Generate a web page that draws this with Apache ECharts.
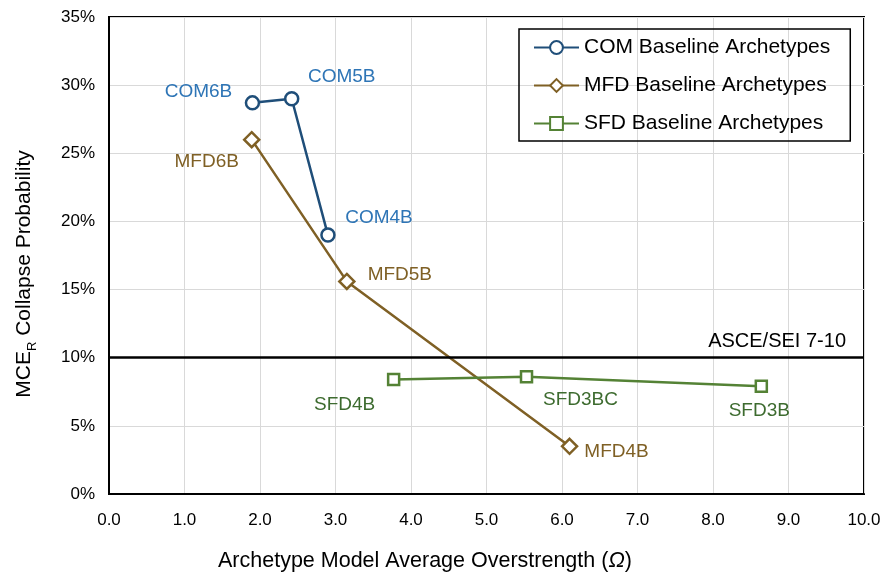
<!DOCTYPE html>
<html>
<head>
<meta charset="utf-8">
<script src="https://cdn.jsdelivr.net/npm/echarts@6/dist/echarts.min.js"></script>
<style>
  html, body { margin: 0; padding: 0; background: #fff; }
  #chart { width: 885px; height: 576px; }
</style>
</head>
<body>
<div id="chart"></div>
<script>
// archetype data (x = overstrength, y = collapse prob. %)
var comNames = ['COM6B', 'COM5B', 'COM4B'];
var comX = [1.90, 2.42, 2.90];
var comY = [28.7, 29.0, 19.0];

var mfdNames = ['MFD6B', 'MFD5B', 'MFD4B'];
var mfdX = [1.89, 3.15, 6.10];
var mfdY = [26.0, 15.6, 3.5];

var sfdNames = ['SFD4B', 'SFD3BC', 'SFD3B'];
var sfdX = [3.77, 5.53, 8.64];
var sfdY = [8.4, 8.6, 7.9];

var limitY = 10;
var limitLabel = 'ASCE/SEI 7-10';

// label offsets (px) per point
var comOff = [[-54, -11], [50, -22], [51, -17]];
var mfdOff = [[-45, 22], [53, -7], [47, 5]];
var sfdOff = [[-49, 25], [54, 23], [-2, 24]];

var FONT = 'Liberation Sans, Arial, sans-serif';

function pts(xs, ys, names, offs, color) {
    return xs.map(function (x, i) {
        return {
            value: [x, ys[i]],
            name: names[i],
            label: {
                show: true,
                position: 'inside',
                offset: offs[i],
                formatter: names[i],
                color: color,
                fontSize: 19,
                fontFamily: FONT
            }
        };
    });
}

function lineSeries(name, data, color, symbol, size) {
    return {
        name: name,
        type: 'line',
        data: data,
        symbol: symbol,
        symbolSize: size,
        showSymbol: true,
        lineStyle: { color: color, width: 2.5 },
        itemStyle: { color: '#fff', borderColor: color, borderWidth: 2.5 },
        emphasis: { disabled: true },
        z: 3
    };
}

var chart = echarts.init(document.getElementById('chart'));

var series = [
    lineSeries('COM Baseline Archetypes', pts(comX, comY, comNames, comOff, '#2E75B6'), '#1F4E79', 'circle', 13),
    lineSeries('MFD Baseline Archetypes', pts(mfdX, mfdY, mfdNames, mfdOff, '#7F6025'), '#7F6025', 'diamond', 15),
    lineSeries('SFD Baseline Archetypes', pts(sfdX, sfdY, sfdNames, sfdOff, '#3D6B2F'), '#548235', 'rect', 11)
];

series[2].markLine = {
    silent: true,
    symbol: 'none',
    data: [{ yAxis: limitY }],
    lineStyle: { color: '#000', width: 2.5, type: 'solid' },
    label: {
        show: true,
        position: 'insideEndTop',
        formatter: limitLabel,
        color: '#000',
        fontSize: 20,
        fontFamily: FONT,
        distance: [18, 6]
    }
};

chart.setOption({
    animation: false,
    textStyle: { fontFamily: FONT },
    grid: {
        left: 109, right: 21, top: 17, bottom: 82,
        show: true, borderColor: '#000', borderWidth: 2
    },
    legend: {
        left: 519, top: 29,
        orient: 'vertical',
        padding: [8, 20, 7, 14],
        itemGap: 17,
        itemWidth: 45,
        itemHeight: 16,
        borderColor: '#000',
        borderWidth: 1.5,
        textStyle: { fontSize: 21, color: '#000', fontFamily: FONT },
        data: series.map(function (s) { return s.name; })
    },
    xAxis: {
        type: 'value',
        min: 0, max: 10, interval: 1,
        axisLine: { show: true, lineStyle: { color: '#000', width: 2 } },
        axisTick: { show: false },
        splitLine: { lineStyle: { color: '#D9D9D9', width: 1 } },
        axisLabel: {
            fontSize: 17, color: '#000', margin: 18,
            formatter: function (v) { return v.toFixed(1); }
        }
    },
    yAxis: {
        type: 'value',
        min: 0, max: 35, interval: 5,
        axisLine: { show: true, lineStyle: { color: '#000', width: 2 } },
        axisTick: { show: false },
        splitLine: { lineStyle: { color: '#D9D9D9', width: 1 } },
        axisLabel: { fontSize: 17, color: '#000', margin: 14, formatter: '{value}%' }
    },
    graphic: [{
        type: 'text',
        left: 218,
        top: 550,
        style: {
            text: '{a|Archetype Model Average Overstrength (}{i|Ω}{a|)}',
            rich: {
                a: { fontSize: 21.5, fill: '#000', fontFamily: FONT },
                i: { fontSize: 21.5, fill: '#000', fontFamily: FONT, fontStyle: 'italic' }
            }
        }
    }, {
        type: 'text',
        x: 22,
        y: 274,
        rotation: Math.PI / 2,
        style: {
            text: '{a|MCE}{s|R}{a| Collapse Probability}',
            align: 'center',
            verticalAlign: 'middle',
            rich: {
                a: { fontSize: 21, fill: '#000', fontFamily: FONT, lineHeight: 26, verticalAlign: 'bottom' },
                s: { fontSize: 13, fill: '#000', fontFamily: FONT, lineHeight: 26, verticalAlign: 'bottom', padding: [0, 0, -4, 0] }
            }
        }
    }],
    series: series
});
</script>
</body>
</html>
